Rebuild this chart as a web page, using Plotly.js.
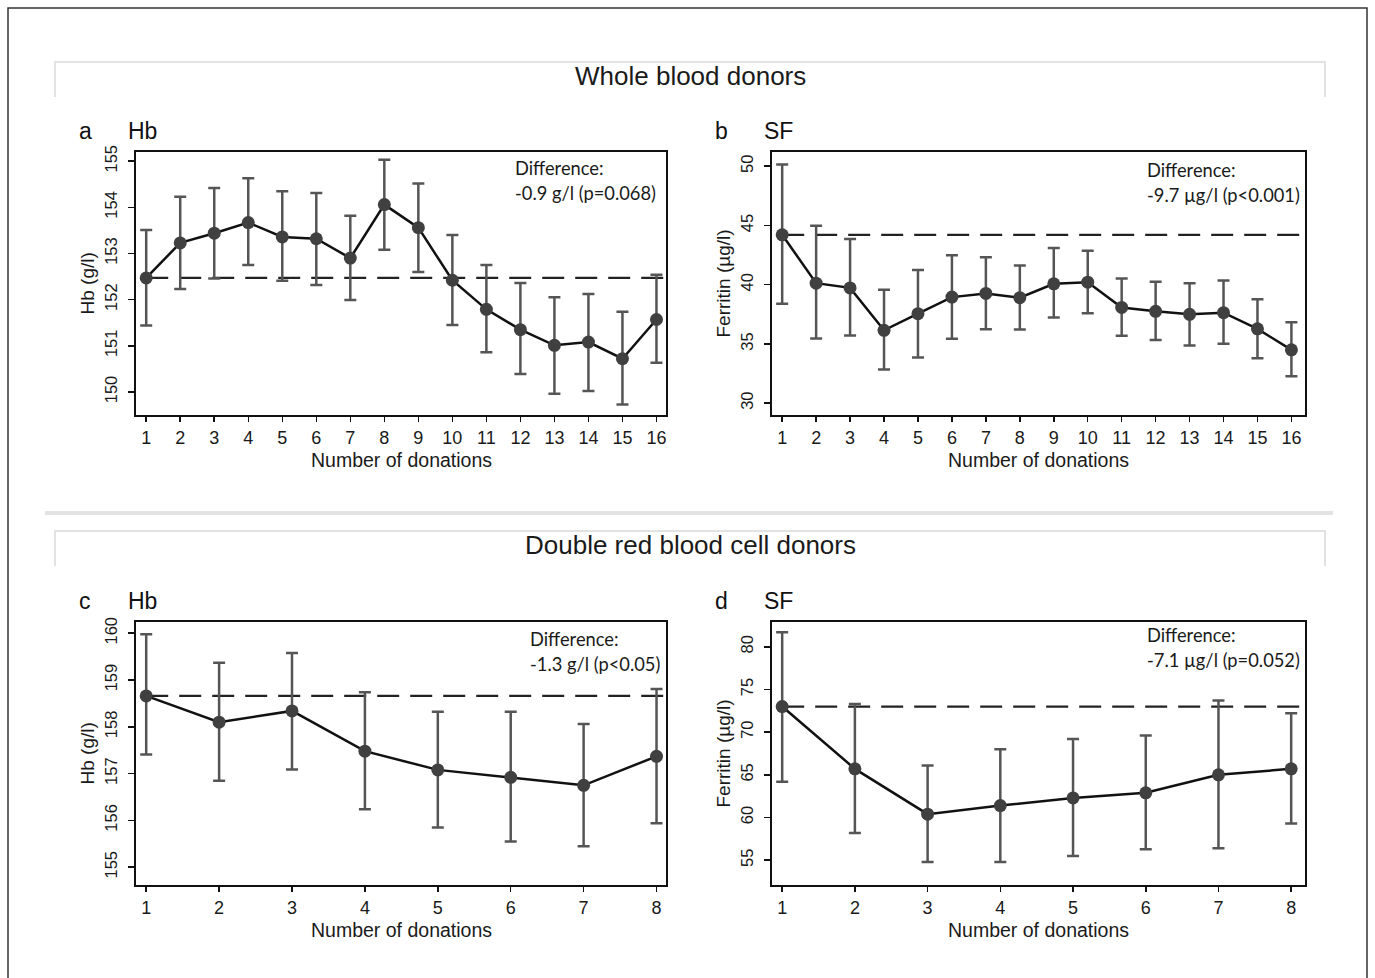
<!DOCTYPE html>
<html><head><meta charset="utf-8">
<script src="https://cdn.plot.ly/plotly-3.0.1.min.js"></script>
<style>html,body{margin:0;padding:0;background:#fff}#chart{width:1375px;height:978px}</style>
</head><body><div id="chart"></div>
<script>
// ---- Data ----
const donationsWB = [1,2,3,4,5,6,7,8,9,10,11,12,13,14,15,16];
const donationsDR = [1,2,3,4,5,6,7,8];

// a: Whole blood donors, Hb (g/l)
const hbWB      = [152.47,153.23,153.44,153.67,153.36,153.32,152.90,154.06,153.56,152.42,151.79,151.35,151.01,151.08,150.72,151.57];
const hbWBUpper = [153.51,154.23,154.42,154.63,154.35,154.31,153.82,155.03,154.52,153.40,152.75,152.36,152.05,152.12,151.74,152.54];
const hbWBLower = [151.44,152.23,152.46,152.75,152.41,152.32,151.99,153.08,152.60,151.45,150.86,150.39,149.96,150.02,149.73,150.63];

// b: Whole blood donors, Ferritin (µg/l)
const sfWB      = [44.21,40.13,39.73,36.15,37.55,38.95,39.26,38.90,40.07,40.21,38.08,37.75,37.50,37.64,36.27,34.50];
const sfWBUpper = [50.14,44.97,43.85,39.57,41.24,42.48,42.31,41.61,43.09,42.87,40.52,40.24,40.13,40.35,38.78,36.83];
const sfWBLower = [38.39,35.45,35.71,32.85,33.86,35.43,36.24,36.21,37.22,37.58,35.68,35.34,34.87,35.01,33.78,32.27];

// c: Double red blood cell donors, Hb (g/l)
const hbDR      = [158.66,158.10,158.34,157.48,157.08,156.92,156.75,157.37];
const hbDRUpper = [159.98,159.37,159.58,158.74,158.32,158.32,158.06,158.81];
const hbDRLower = [157.41,156.85,157.09,156.24,155.85,155.55,155.45,155.94];

// d: Double red blood cell donors, Ferritin (µg/l)
const sfDR      = [73.0,65.7,60.4,61.4,62.3,62.9,65.0,65.7];
const sfDRUpper = [81.7,73.3,66.1,68.0,69.2,69.6,73.7,72.2];
const sfDRLower = [64.2,58.2,54.8,54.8,55.5,56.3,56.4,59.3];

const panelLetters = ['a','b','c','d'];
const panelNames = ['Hb','SF','Hb','SF'];
const yTitles = ['Hb (g/l)','Ferritin (µg/l)','Hb (g/l)','Ferritin (µg/l)'];
const xTitle = 'Number of donations';
const diffLabel = 'Difference:';
const diffTexts = ['-0.9 g/l (p=0.068)','-9.7 µg/l (p<0.001)','-1.3 g/l (p<0.05)','-7.1 µg/l (p=0.052)'];
const sectionTitles = ['Whole blood donors','Double red blood cell donors'];
const yTicksA = [150,151,152,153,154,155];
const yTicksB = [30,35,40,45,50];
const yTicksC = [155,156,157,158,159,160];
const yTicksD = [55,60,65,70,75,80];

// ---- Layout helpers (pixel -> paper) ----
const W = 1375, H = 978;
const px = x => x / W;
const py = y => 1 - y / H;

const panels = [
  {x: donationsWB, y: hbWB, up: hbWBUpper, lo: hbWBLower, xr:[0.7,16.28], yr:[149.5,155.2], ticks: yTicksA, box:[136,666,152,415]},
  {x: donationsWB, y: sfWB, up: sfWBUpper, lo: sfWBLower, xr:[0.7,16.4], yr:[29.0,51.2], ticks: yTicksB, box:[772,1305,152,415]},
  {x: donationsDR, y: hbDR, up: hbDRUpper, lo: hbDRLower, xr:[0.86,8.13], yr:[154.62,160.24], ticks: yTicksC, box:[136,666,622,885]},
  {x: donationsDR, y: sfDR, up: sfDRUpper, lo: sfDRLower, xr:[0.86,8.19], yr:[52.1,82.9], ticks: yTicksD, box:[772,1305,622,885]}
];

const FONT = 'Liberation Sans, Arial, sans-serif';
const xTickFont = {family: FONT, size: 18, color: '#1a1a1a'};
const yTickFont = {family: FONT, size: 16.5, color: '#1a1a1a'};
const traces = [];
const layout = {
  width: W, height: H,
  margin: {l:0, r:0, t:0, b:0},
  paper_bgcolor: '#ffffff', plot_bgcolor: '#ffffff',
  showlegend: false,
  annotations: [], shapes: []
};

panels.forEach((p, i) => {
  const n = i + 1;
  const xa = n === 1 ? 'x' : 'x' + n;
  const ya = n === 1 ? 'y' : 'y' + n;
  const [l, r, t, b] = p.box;
  // dashed baseline at first value
  traces.push({
    x: [p.x[0], p.xr[1]], y: [p.y[0], p.y[0]], xaxis: xa, yaxis: ya,
    mode: 'lines', line: {color: '#222', width: 2.2, dash: '22px,11px'}, hoverinfo: 'skip'
  });
  traces.push({
    x: p.x, y: p.y, xaxis: xa, yaxis: ya,
    mode: 'lines+markers',
    line: {color: '#111', width: 2.5},
    marker: {color: '#404040', size: 13},
    error_y: {
      type: 'data', symmetric: false,
      array: p.up.map((u, k) => u - p.y[k]),
      arrayminus: p.y.map((v, k) => v - p.lo[k]),
      color: '#555', thickness: 2.5, width: 6
    }
  });
  const axX = {
    domain: [px(l), px(r)], range: p.xr, anchor: ya,
    tickmode: 'array', tickvals: p.x, ticktext: p.x.map(String),
    ticks: 'outside', ticklen: 5, tickwidth: 1.5, tickcolor: '#111',
    showline: true, mirror: true, linecolor: '#111', linewidth: 2,
    showgrid: false, zeroline: false, tickfont: xTickFont, automargin: false, fixedrange: true
  };
  const axY = {
    domain: [py(b), py(t)], range: p.yr, anchor: xa,
    tickmode: 'array', tickvals: p.ticks, ticktext: p.ticks.map(String), tickangle: -90,
    ticks: 'outside', ticklen: 6, tickwidth: 1.5, tickcolor: '#111', ticklabelstandoff: 4,
    showline: true, mirror: true, linecolor: '#111', linewidth: 2,
    showgrid: false, zeroline: false, tickfont: yTickFont, automargin: false, fixedrange: true
  };
  layout[n === 1 ? 'xaxis' : 'xaxis' + n] = axX;
  layout[n === 1 ? 'yaxis' : 'yaxis' + n] = axY;

  // panel letter and name
  layout.annotations.push({xref:'paper', yref:'paper', x: px(l - 51), y: py(t - 21), text: panelLetters[i],
    showarrow:false, xanchor:'center', yanchor:'middle', font:{family:FONT, size:23, color:'#111'}});
  layout.annotations.push({xref:'paper', yref:'paper', x: px(l - 10), y: py(t - 21), text: panelNames[i],
    showarrow:false, xanchor:'left', yanchor:'middle', font:{family:FONT, size:23, color:'#111'}});
  // axis titles
  layout.annotations.push({xref:'paper', yref:'paper', x: px((l + r) / 2), y: py(b + 45), text: xTitle,
    showarrow:false, xanchor:'center', yanchor:'middle', font:{family:FONT, size:19.5, color:'#1a1a1a'}});
  layout.annotations.push({xref:'paper', yref:'paper', x: px(l - 49), y: py((t + b) / 2), text: yTitles[i], textangle: -90,
    showarrow:false, xanchor:'center', yanchor:'middle', font:{family:FONT, size:19, color:'#1a1a1a'}});
  // difference text
  const dx = [513, 1145, 528, 1145][i];
  const dy1 = [168, 170, 639, 635][i];
  layout.annotations.push({xref:'paper', yref:'paper', x: px(dx), y: py(dy1), text: diffLabel,
    showarrow:false, xanchor:'left', yanchor:'middle', font:{family:'Lato, sans-serif', size:18.3, color:'#1a1a1a'}});
  layout.annotations.push({xref:'paper', yref:'paper', x: px(dx), y: py(dy1 + 25), text: diffTexts[i],
    showarrow:false, xanchor:'left', yanchor:'middle', font:{family:'Lato, sans-serif', size:18.3, color:'#1a1a1a'}});
});

// outer frame
layout.shapes.push({type:'path', xref:'paper', yref:'paper',
  path: `M ${px(8)} ${py(990)} L ${px(8)} ${py(8)} L ${px(1367)} ${py(8)} L ${px(1367)} ${py(990)}`,
  line:{color:'#333', width:1.5}});
// section header boxes
[[62, 97], [531, 566]].forEach(([t, b], k) => {
  layout.shapes.push({type:'path', xref:'paper', yref:'paper',
    path: `M ${px(55)} ${py(b)} L ${px(55)} ${py(t)} L ${px(1325)} ${py(t)} L ${px(1325)} ${py(b)}`,
    line:{color:'#e2e2e2', width:2}});
  layout.annotations.push({xref:'paper', yref:'paper', x: px(690), y: py(t + 14), text: sectionTitles[k],
    showarrow:false, xanchor:'center', yanchor:'middle', font:{family:FONT, size:26, color:'#1a1a1a'}});
});
// separator between sections
layout.shapes.push({type:'line', xref:'paper', yref:'paper', x0: px(45), x1: px(1333), y0: py(513), y1: py(513),
  line:{color:'#e3e3e3', width:4}});

Plotly.newPlot('chart', traces, layout, {displayModeBar:false, staticPlot:true});
</script>
</body></html>
